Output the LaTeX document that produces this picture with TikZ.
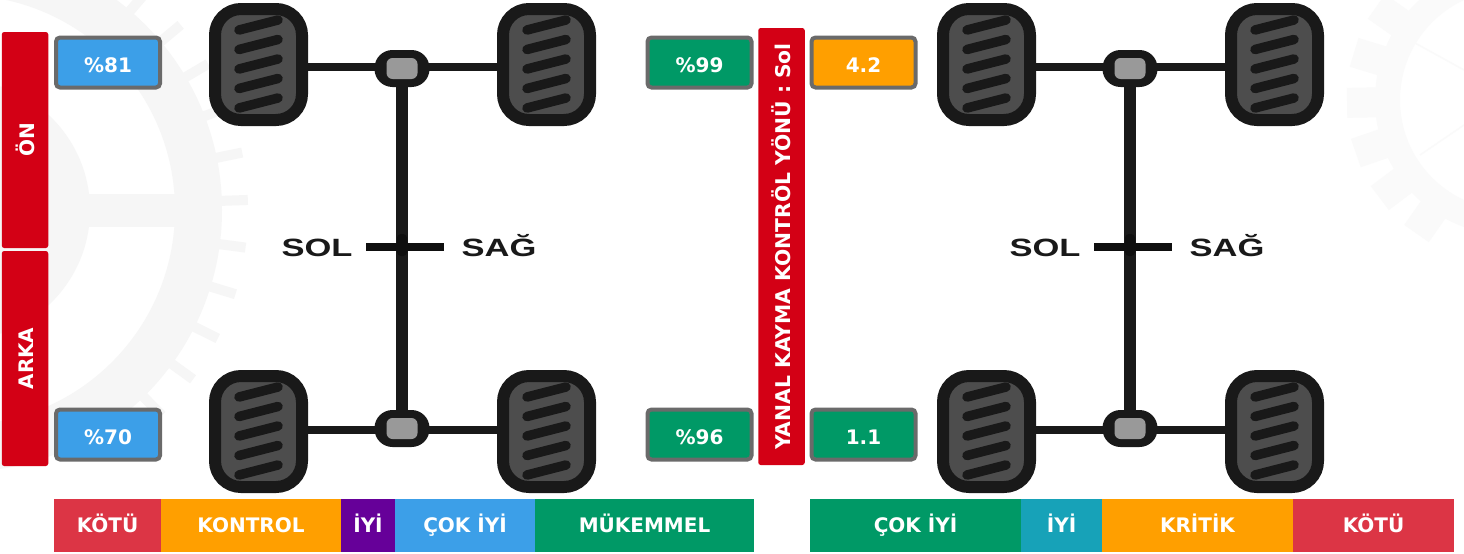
\documentclass[tikz,border=0pt]{standalone}
\usepackage{fontspec}
\setmainfont{DejaVu Sans}
\newfontfamily\wide{Liberation Sans}
\definecolor{tyre}{HTML}{191919}
\definecolor{crossk}{HTML}{0F0F0F}
\definecolor{tread}{HTML}{4D4D4D}
\definecolor{hubgrey}{HTML}{999999}
\definecolor{redbar}{HTML}{D30015}
\definecolor{frameg}{HTML}{6A6A6A}
\definecolor{cbad}{HTML}{DC3545}
\definecolor{corange}{HTML}{FF9F00}
\definecolor{cpurple}{HTML}{660099}
\definecolor{cblue}{HTML}{3C9FE8}
\definecolor{cgreen}{HTML}{009966}
\definecolor{cteal}{HTML}{17A2B8}
\definecolor{waterA}{HTML}{F6F6F6}
\definecolor{waterB}{HTML}{FAFAFA}
\tikzset{
  wheelbox/.style={draw=tyre,fill=tread,line width=12pt,rounded corners=26pt,minimum width=87pt,minimum height=111pt,inner sep=0pt,outer sep=6pt},
  hubbox/.style={fill=tyre,rounded corners=18pt,minimum width=55pt,minimum height=37pt,inner sep=0pt,outer sep=0pt},
  hubcore/.style={fill=hubgrey,rounded corners=6pt,minimum width=31pt,minimum height=21pt,inner sep=0pt},
  joint/.style={fill=crossk,rounded corners=4pt,minimum width=10pt,minimum height=22pt,inner sep=0pt},
  axle/.style={draw=tyre,line width=8pt},
  crossbar/.style={draw=crossk,line width=8pt},
  spine/.style={draw=tyre,line width=11.5pt},
  treadline/.style={draw=tyre,line width=9.5pt,line cap=round},
  lab/.style={text=white,font=\fontsize{20}{20}\selectfont\bfseries},
  ratebox/.style={lab,draw=frameg,line width=4pt,rounded corners=4pt,minimum width=104pt,minimum height=50pt,inner sep=0pt,text height=19.4pt,text depth=0pt},
  redstrip/.style={lab,fill=redbar,rounded corners=2.5pt,minimum width=46.5pt,inner sep=0pt},
  band/.style={lab,minimum height=53pt,inner sep=0pt,outer sep=0pt,text height=14pt,text depth=0pt},
  sidetext/.style={text=tyre,inner sep=0pt,anchor=base,font=\wide\fontsize{25}{25}\selectfont\bfseries},
}
\newcommand{\widen}[1]{\scalebox{1.38}[1]{#1}}
\newcommand{\treads}[2]{%
  \foreach \k in {0,1,2,3,4}
    \draw[treadline] ({#1+30pt},{#2-27pt-19.5pt*\k}) -- ({#1+69pt},{#2-17pt-19.5pt*\k});
}
\newcommand{\chassis}[2]{%
  \coordinate (#1axF) at ({#2pt},-66.5pt);
  \coordinate (#1axB) at ({#2pt},-430pt);
  \coordinate (#1crossL) at ({#2pt-36pt},-247pt);
  \coordinate (#1crossR) at ({#2pt+42pt},-247pt);
  \node[wheelbox] (#1wFL) at ({#2pt-143.5pt},-64.5pt) {};
  \node[wheelbox] (#1wFR) at ({#2pt+144.5pt},-64.5pt) {};
  \node[wheelbox] (#1wBL) at ({#2pt-143.5pt},-431.5pt) {};
  \node[wheelbox] (#1wBR) at ({#2pt+144.5pt},-431.5pt) {};
  \treads{#2pt-193pt}{-3pt}\treads{#2pt+95pt}{-3pt}
  \treads{#2pt-193pt}{-370pt}\treads{#2pt+95pt}{-370pt}
  \draw[axle] (#1axF -| #1wFL.east) -- (#1axF -| #1wFR.west);
  \draw[axle] (#1axB -| #1wBL.east) -- (#1axB -| #1wBR.west);
  \node[hubbox] (#1hF) at ({#2pt},-68.5pt) {};
  \node[hubbox] (#1hB) at ({#2pt},-428.5pt) {};
  \node[hubcore] (#1cF) at (#1hF.center) {};
  \node[hubcore] (#1cB) at (#1hB.center) {};
  \draw[spine] (#1hF.south) -- (#1hB.north);
  \draw[crossbar] (#1crossL) -- (#1crossR);
  \node[joint] (#1joint) at ({#2pt},-245pt) {};
  \node[sidetext] (#1sol) at ({#2pt-85pt},-256pt) {\widen{SOL}};
  \node[sidetext] (#1sag) at ({#2pt+97pt},-256pt) {\widen{SAĞ}};
}
\begin{document}
\begin{tikzpicture}
\path[use as bounding box,fill=white] (0pt,0pt) rectangle (1464pt,-554pt);
% faint gear marks behind the drawing
\begin{scope}
\clip (0pt,0pt) rectangle (1464pt,-554pt);
\begin{scope}[shift={(-40pt,-210pt)}]
  \fill[waterA,even odd rule] (0,0) circle[radius=262pt] (0,0) circle[radius=215pt];
  \fill[waterA] (0,0) circle[radius=130pt];
  \fill[waterA] (100pt,-17pt) rectangle (225pt,16pt);
  \foreach \a in {-55,-45.5,...,60}
    \fill[waterA,rotate=\a] (258pt,-5pt) rectangle (288pt,5pt);
\end{scope}
\begin{scope}[shift={(1510pt,-100pt)}]
  \fill[waterB,even odd rule] (0,0) circle[radius=135pt] (0,0) circle[radius=110pt];
  \foreach \a in {145,163,181,199,217,235}
    \fill[waterB,rotate=\a] (130pt,-15pt) rectangle (163pt,15pt);
  \draw[waterB,line width=1.5pt] (-95pt,57pt) -- (-46pt,30pt);
  \draw[waterB,line width=1.5pt] (-90pt,-55pt) -- (-46pt,-25pt);
\end{scope}
\end{scope}
\chassis{L}{402}
\chassis{R}{1130}
\node[redstrip,minimum height=216pt] (on) at (25pt,-140pt) {\rotatebox{90}{ÖN}};
\node[redstrip,minimum height=215pt] (arka) at (25pt,-358.5pt) {\hspace{3pt}\rotatebox{90}{ARKA}};
\node[redstrip,minimum height=437pt] (yanal) at (781.5pt,-246.5pt) {\rotatebox{90}{\fontsize{20.3}{20}\selectfont YANAL KAYMA KONTRÖL YÖNÜ : Sol}};
\node[ratebox,fill=cblue] (fl) at (108pt,-62.5pt) {\%81};
\node[ratebox,fill=cblue] (rl) at (108pt,-434.5pt) {\%70};
\node[ratebox,fill=cgreen] (fr) at (699.5pt,-62.5pt) {\%99};
\node[ratebox,fill=cgreen] (rr) at (699.5pt,-434.5pt) {\%96};
\node[ratebox,fill=corange] (sf) at (863.5pt,-62.5pt) {4.2};
\node[ratebox,fill=cgreen] (sr) at (863.5pt,-434.5pt) {1.1};
\node[band,fill=cbad,minimum width=107pt] (a1) at (107.5pt,-525.5pt) {KÖTÜ};
\node[band,fill=corange,minimum width=180pt] (a2) at (251pt,-525.5pt) {KONTROL};
\node[band,fill=cpurple,minimum width=54pt] (a3) at (368pt,-525.5pt) {İYİ};
\node[band,fill=cblue,minimum width=140pt] (a4) at (465pt,-525.5pt) {ÇOK İYİ};
\node[band,fill=cgreen,minimum width=219pt] (a5) at (644.5pt,-525.5pt) {MÜKEMMEL};
\node[band,fill=cgreen,minimum width=211pt] (b1) at (915.5pt,-525.5pt) {ÇOK İYİ};
\node[band,fill=cteal,minimum width=81pt] (b2) at (1061.5pt,-525.5pt) {İYİ};
\node[band,fill=corange,minimum width=191pt] (b3) at (1197.5pt,-525.5pt) {KRİTİK};
\node[band,fill=cbad,minimum width=161pt] (b4) at (1373.5pt,-525.5pt) {KÖTÜ};
\end{tikzpicture}
\end{document}
